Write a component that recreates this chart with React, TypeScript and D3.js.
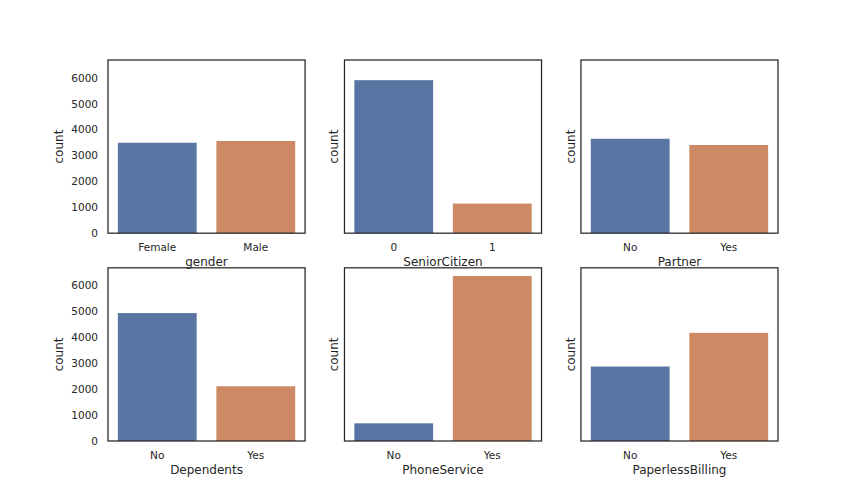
import * as d3 from 'd3';

const WIDTH = 864;
const HEIGHT = 504;

// telco churn counts, one countplot per column
const features = ['gender', 'SeniorCitizen', 'Partner', 'Dependents', 'PhoneService', 'PaperlessBilling'];
const categories = [
  ['Female', 'Male'],
  ['0', '1'],
  ['No', 'Yes'],
  ['No', 'Yes'],
  ['No', 'Yes'],
  ['No', 'Yes'],
];
const counts = [
  [3488, 3555],
  [5901, 1142],
  [3641, 3402],
  [4933, 2110],
  [682, 6361],
  [2872, 4171],
];
const yTicks = [0, 1000, 2000, 3000, 4000, 5000, 6000];

const COLORS = ['#5975a4', '#cc8963'];
const TEXT = '#262626';
const FONT = 'DejaVu Sans, sans-serif';

// matplotlib-ish subplot grid
const LEFT = 108;
const RIGHT = 778;
const TOP = 60;
const BOTTOM = 441;
const NCOLS = 3;
const NROWS = 2;
const WSPACE = 0.2;
const HSPACE = 0.2;
const PW = (RIGHT - LEFT) / (NCOLS + WSPACE * (NCOLS - 1));
const PH = (BOTTOM - TOP) / (NROWS + HSPACE * (NROWS - 1));

const yMax = d3.max(counts.flat())! * 1.05;

export default function App() {
  const yScale = d3.scaleLinear().domain([0, yMax]).range([PH, 0]);

  const panels = features.map((feat, i) => {
    const col = i % NCOLS;
    const row = Math.floor(i / NCOLS);
    const x0 = LEFT + col * PW * (1 + WSPACE);
    const y0 = TOP + row * PH * (1 + HSPACE);
    const xScale = d3
      .scaleBand()
      .domain(categories[i])
      .range([0, PW])
      .paddingInner(0.2)
      .paddingOuter(0.1);

    return (
      <g key={feat} transform={`translate(${x0},${y0})`}>
        {categories[i].map((c, j) => (
          <rect
            key={c}
            x={xScale(c)}
            y={yScale(counts[i][j])}
            width={xScale.bandwidth()}
            height={PH - yScale(counts[i][j])}
            fill={COLORS[j]}
          />
        ))}
        {categories[i].map((c) => (
          <text
            key={c}
            x={xScale(c)! + xScale.bandwidth() / 2}
            y={PH + 14}
            textAnchor="middle"
            dominantBaseline="central"
            fontSize={10.5}
            fill={TEXT}
          >
            {c}
          </text>
        ))}
        {col === 0 &&
          yTicks.map((t) => (
            <text
              key={t}
              x={-10}
              y={yScale(t)}
              textAnchor="end"
              dominantBaseline="central"
              fontSize={10.5}
              fill={TEXT}
            >
              {t}
            </text>
          ))}
        <text
          transform={`translate(${col === 0 ? -49 : -10},${PH / 2}) rotate(-90)`}
          textAnchor="middle"
          dominantBaseline="central"
          fontSize={12}
          fill={TEXT}
        >
          count
        </text>
        <text
          x={PW / 2}
          y={PH + 29}
          textAnchor="middle"
          dominantBaseline="central"
          fontSize={12}
          fill={TEXT}
        >
          {feat}
        </text>
        <rect x={0} y={0} width={PW} height={PH} fill="none" stroke={TEXT} strokeWidth={1.25} />
      </g>
    );
  });

  return (
    <svg
      width={WIDTH}
      height={HEIGHT}
      style={{ position: 'absolute', left: 0, top: 0, background: '#fff', fontFamily: FONT }}
    >
      {panels}
    </svg>
  );
}
